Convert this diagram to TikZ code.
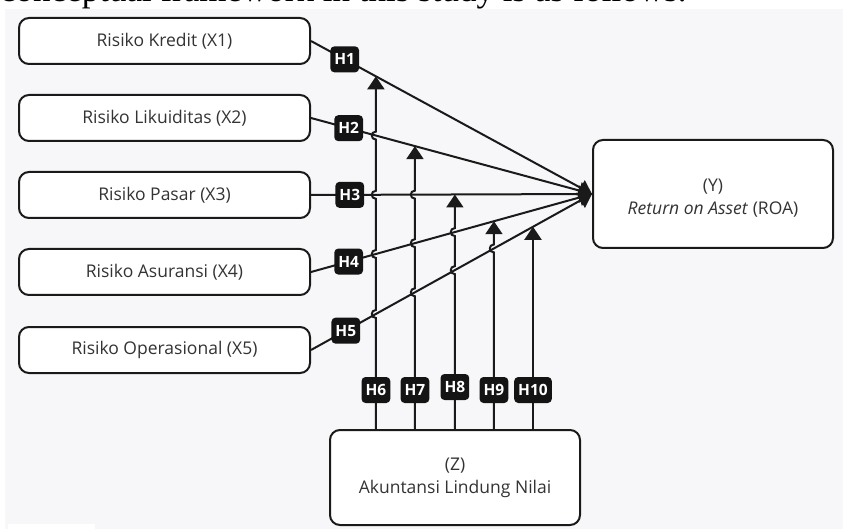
\documentclass[tikz,border=0pt]{standalone}
\usepackage{fontspec}
\setmainfont{Open Sans}
\newfontfamily\serifdoc{Liberation Serif}
\usetikzlibrary{arrows.meta,calc}
\definecolor{linec}{HTML}{1A1A1A}
\definecolor{textc}{HTML}{333333}
\definecolor{labc}{HTML}{141414}
\definecolor{bgc}{HTML}{F7F7F9}
\begin{document}
\begin{tikzpicture}[x=1pt,y=-1pt,
  box/.style={draw=linec, line width=2pt, rounded corners=10pt, fill=white, text=textc,
    font=\fontsize{17.5}{23}\selectfont, align=center, inner sep=0pt},
  lab/.style={fill=labc, rounded corners=4pt, text=white, font=\fontsize{15.5}{15.5}\selectfont\bfseries,
    minimum height=26pt, inner xsep=4pt, inner ysep=0pt},
  link/.style={draw=linec, line width=2pt},
  arr/.style={link, -{Triangle[width=17pt,length=13pt]}},
  hop/.style={insert path={-- ($(#1)+(0,4)$) .. controls ($(#1)+(-5.5,4)$) and ($(#1)+(-5.5,-4)$) .. ($(#1)+(0,-4)$)}}
]
% background
\fill[white] (0,0) rectangle (843,529);
\fill[bgc] (5,9) rectangle (843,529);
\fill[white] (8,524) rectangle (95,529);
\useasboundingbox (0,0) rectangle (843,529);
\begin{scope}
  \clip (0,0) rectangle (843,9);
  \node[anchor=base west, inner sep=0pt, font=\serifdoc\fontsize{35}{35}\selectfont] (intro) at (0,1.5)
    {conceptual framework in this study is as follows.};
\end{scope}

% boxes
\node[box, minimum width=291pt, minimum height=46pt] (X1) at (164.5,41) {Risiko Kredit (X1)};
\node[box, minimum width=291pt, minimum height=46pt] (X2) at (164.5,118) {Risiko Likuiditas (X2)};
\node[box, minimum width=291pt, minimum height=46pt] (X3) at (164.5,195) {Risiko Pasar (X3)};
\node[box, minimum width=291pt, minimum height=46pt] (X4) at (164.5,272) {Risiko Asuransi (X4)};
\node[box, minimum width=291pt, minimum height=46pt] (X5) at (164.5,350) {Risiko Operasional (X5)};
\node[box, minimum width=240pt, minimum height=108pt] (Y) at (713,194) {\rule{0pt}{21pt}(Y)\\\textit{Return on Asset} (ROA)};
\node[box, minimum width=250pt, minimum height=95pt] (Z) at (455,477.5) {(Z)\\Akuntansi Lindung Nilai};

% direct paths
\draw[arr] (X1.east) -- (Y.west) node[lab, pos=0.12] (H1) {H1};
\draw[arr] (X2.east) -- (Y.west) node[lab, pos=0.134] (H2) {H2};
\draw[arr] (X3.east) -- (Y.west) node[lab, pos=0.138] (H3) {H3};
\draw[arr] (X4.east) -- (Y.west) node[lab, pos=0.134] (H4) {H4};
\draw[arr] (X5.east) -- (Y.west) node[lab, pos=0.124] (H5) {H5};

% moderation targets
\coordinate (t6) at ($(X1.east)!0.231!(Y.west)$);
\coordinate (t7) at ($(X2.east)!0.370!(Y.west)$);
\coordinate (t8) at ($(X3.east)!0.512!(Y.west)$);
\coordinate (t9) at ($(X4.east)!0.651!(Y.west)$);
\coordinate (t10) at ($(X5.east)!0.790!(Y.west)$);
\foreach \i in {6,7,8,9,10} {\coordinate (b\i) at (t\i |- Z.north);}

% crossings
\coordinate (c62) at (intersection of X2.east--Y.west and t6--b6);
\coordinate (c63) at (intersection of X3.east--Y.west and t6--b6);
\coordinate (c64) at (intersection of X4.east--Y.west and t6--b6);
\coordinate (c65) at (intersection of X5.east--Y.west and t6--b6);
\coordinate (c73) at (intersection of X3.east--Y.west and t7--b7);
\coordinate (c74) at (intersection of X4.east--Y.west and t7--b7);
\coordinate (c75) at (intersection of X5.east--Y.west and t7--b7);
\coordinate (c84) at (intersection of X4.east--Y.west and t8--b8);
\coordinate (c85) at (intersection of X5.east--Y.west and t8--b8);
\coordinate (c95) at (intersection of X5.east--Y.west and t9--b9);

\draw[arr] (b6) [hop=c65] [hop=c64] [hop=c63] [hop=c62] -- (t6);
\draw[arr] (b7) [hop=c75] [hop=c74] [hop=c73] -- (t7);
\draw[arr] (b8) [hop=c85] [hop=c84] -- (t8);
\draw[arr] (b9) [hop=c95] -- (t9);
\draw[arr] (b10) -- (t10);

\node[lab] (H6) at (t6 |- 0,390) {H6};
\node[lab] (H7) at (t7 |- 0,390) {H7};
\node[lab] (H8) at (t8 |- 0,387) {H8};
\node[lab] (H9) at (t9 |- 0,390) {H9};
\node[lab] (H10) at (t10 |- 0,390) {H10};
\end{tikzpicture}
\end{document}
